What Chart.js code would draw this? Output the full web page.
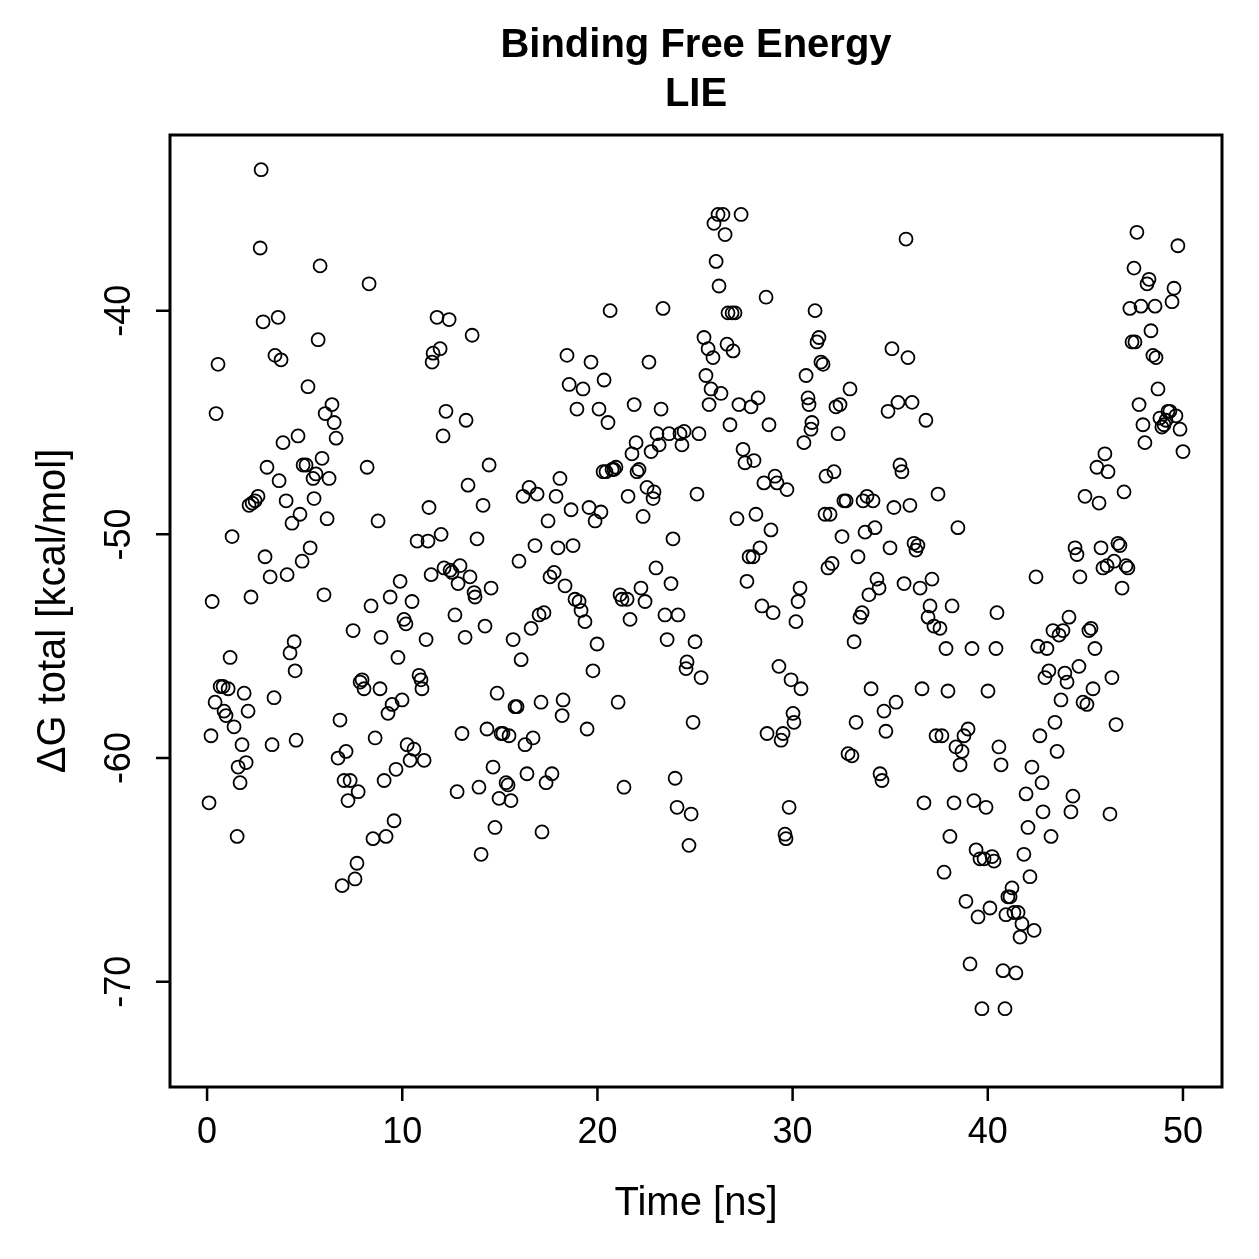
<!DOCTYPE html>
<html>
<head>
<meta charset="utf-8">
<title>Binding Free Energy - LIE</title>
<script src="https://cdn.jsdelivr.net/npm/chart.js@4.4.1/dist/chart.umd.min.js"></script>
<style>
  html, body { margin: 0; padding: 0; background: #ffffff; }
  #chart { display: block; }
</style>
</head>
<body>
<canvas id="chart" width="1259" height="1259"></canvas>
<script>
// values (time in ns, dG in kcal/mol)
const timeNs = [
  0.10, 0.20, 0.26, 0.41, 0.46, 0.56, 0.67, 0.82, 0.87, 0.97,
  1.08, 1.18, 1.28, 1.38, 1.54, 1.59, 1.69, 1.79, 1.90, 2.00,
  2.10, 2.25, 2.15, 2.31, 2.46, 2.61, 2.72, 2.77, 2.87, 2.97,
  3.07, 3.23, 3.33, 3.43, 3.48, 3.64, 3.69, 3.79, 3.89, 4.05,
  4.10, 4.25, 4.35, 4.46, 4.51, 4.56, 4.66, 4.76, 4.87, 4.92,
  5.07, 5.17, 5.28, 5.43, 5.48, 5.58, 5.69, 5.79, 5.89, 5.99,
  6.05, 6.15, 6.25, 6.40, 6.51, 6.61, 6.71, 6.81, 6.92, 7.02,
  7.12, 7.22, 7.33, 7.48, 7.58, 7.68, 7.74, 7.84, 7.94, 8.04,
  8.20, 8.30, 8.40, 8.50, 8.61, 8.76, 8.86, 8.91, 9.07, 9.17,
  9.27, 9.38, 9.48, 9.58, 9.68, 9.78, 9.89, 9.99, 10.09, 10.19,
  10.25, 10.40, 10.50, 10.60, 10.76, 10.86, 10.96, 11.01, 11.12, 11.22,
  11.32, 11.37, 11.48, 11.53, 11.58, 11.78, 11.94, 11.99, 12.09, 12.14,
  12.24, 12.40, 12.45, 12.55, 12.70, 12.81, 12.86, 12.96, 13.06, 13.22,
  13.27, 13.37, 13.47, 13.58, 13.68, 13.73, 13.83, 13.93, 14.04, 14.14,
  14.24, 14.34, 14.45, 14.55, 14.65, 14.75, 14.86, 14.96, 15.06, 15.16,
  15.32, 15.42, 15.47, 15.57, 15.68, 15.78, 15.88, 15.98, 16.09, 16.19,
  16.29, 16.39, 16.50, 16.60, 16.70, 16.80, 16.91, 17.01, 17.11, 17.16,
  17.26, 17.37, 17.47, 17.57, 17.67, 17.78, 17.88, 17.98, 18.08, 18.19,
  18.24, 18.34, 18.44, 18.55, 18.65, 18.75, 18.85, 18.95, 19.06, 19.16,
  19.26, 19.36, 19.47, 19.57, 19.67, 19.77, 19.88, 19.98, 20.08, 20.18,
  20.29, 20.34, 20.44, 20.54, 20.65, 20.75, 20.85, 20.95, 21.06, 21.16,
  21.26, 21.36, 21.52, 21.57, 21.67, 21.77, 21.88, 21.98, 22.03, 22.13,
  22.23, 22.34, 22.44, 22.54, 22.64, 22.75, 22.85, 22.90, 23.00, 23.05,
  23.16, 23.26, 23.36, 23.46, 23.57, 23.67, 23.77, 23.87, 23.98, 24.08,
  24.13, 24.23, 24.33, 24.44, 24.54, 24.59, 24.69, 24.80, 24.90, 25.00,
  25.10, 25.20, 25.31, 25.46, 25.56, 25.67, 25.72, 25.82, 25.92, 25.97,
  26.08, 26.18, 26.23, 26.33, 26.43, 26.54, 26.64, 26.69, 26.79, 26.90,
  26.95, 27.05, 27.15, 27.25, 27.36, 27.46, 27.56, 27.66, 27.77, 27.87,
  27.97, 28.02, 28.12, 28.23, 28.33, 28.43, 28.53, 28.64, 28.69, 28.79,
  28.89, 29.00, 29.10, 29.20, 29.30, 29.41, 29.51, 29.61, 29.66, 29.71,
  29.82, 29.92, 30.02, 30.07, 30.17, 30.28, 30.38, 30.43, 30.58, 30.69,
  30.79, 30.84, 30.94, 30.99, 31.15, 31.25, 31.35, 31.45, 31.56, 31.66,
  31.71, 31.81, 31.92, 32.02, 32.12, 32.22, 32.33, 32.43, 32.53, 32.63,
  32.74, 32.84, 32.94, 33.04, 33.15, 33.25, 33.35, 33.45, 33.56, 33.61,
  33.71, 33.81, 33.91, 34.02, 34.12, 34.22, 34.32, 34.43, 34.48, 34.58,
  34.68, 34.78, 34.89, 34.99, 35.09, 35.19, 35.30, 35.40, 35.50, 35.60,
  35.71, 35.81, 35.91, 36.01, 36.12, 36.22, 36.32, 36.42, 36.53, 36.63,
  36.73, 36.83, 36.94, 37.04, 37.14, 37.24, 37.35, 37.45, 37.55, 37.65,
  37.76, 37.86, 37.96, 38.06, 38.17, 38.27, 38.37, 38.47, 38.58, 38.68,
  38.78, 38.88, 38.99, 39.09, 39.19, 39.29, 39.40, 39.50, 39.60, 39.70,
  39.81, 39.91, 40.01, 40.11, 40.22, 40.32, 40.42, 40.47, 40.57, 40.68,
  40.78, 40.88, 40.93, 41.03, 41.14, 41.24, 41.34, 41.44, 41.55, 41.65,
  41.75, 41.85, 41.96, 42.06, 42.16, 42.26, 42.37, 42.47, 42.57, 42.67,
  42.78, 42.83, 42.93, 43.03, 43.13, 43.24, 43.34, 43.44, 43.55, 43.65,
  43.75, 43.85, 43.95, 44.06, 44.16, 44.26, 44.36, 44.47, 44.57, 44.67,
  44.72, 44.88, 44.98, 45.08, 45.18, 45.29, 45.39, 45.49, 45.59, 45.70,
  45.80, 45.90, 46.00, 46.11, 46.16, 46.26, 46.36, 46.47, 46.57, 46.67,
  46.77, 46.88, 46.98, 47.08, 47.18, 47.28, 47.39, 47.49, 47.54, 47.64,
  47.75, 47.85, 47.95, 48.05, 48.16, 48.26, 48.36, 48.46, 48.57, 48.62,
  48.72, 48.82, 48.92, 49.03, 49.13, 49.23, 49.33, 49.44, 49.54, 49.64,
  49.74, 49.85, 50.00
];

const deltaG = [
  -62.0, -59.0, -53.0, -57.5, -44.6, -42.4, -56.8, -56.8, -57.9, -58.1,
  -56.9, -55.5, -50.1, -58.6, -63.5, -60.4, -61.1, -59.4, -57.1, -60.2,
  -57.9, -52.8, -48.7, -48.6, -48.5, -48.3, -37.2, -33.7, -40.5, -51.0,
  -47.0, -51.9, -59.4, -57.3, -42.0, -40.3, -47.6, -42.2, -45.9, -48.5,
  -51.8, -55.3, -49.5, -54.8, -56.1, -59.2, -45.6, -49.1, -51.2, -46.9,
  -46.9, -43.4, -50.6, -47.5, -48.4, -47.3, -41.3, -38.0, -46.6, -52.7,
  -44.6, -49.3, -47.5, -44.2, -45.0, -45.7, -60.0, -58.3, -65.7, -61.0,
  -59.7, -61.9, -61.0, -54.3, -65.4, -64.7, -61.5, -56.6, -56.5, -56.9,
  -47.0, -38.8, -53.2, -63.6, -59.1, -49.4, -56.9, -54.6, -61.0, -63.5,
  -58.0, -52.8, -57.6, -62.8, -60.5, -55.5, -52.1, -57.4, -53.8, -54.0,
  -59.4, -60.1, -53.0, -59.6, -50.3, -56.3, -56.5, -56.9, -60.1, -54.7,
  -50.3, -48.8, -51.8, -42.3, -41.9, -40.3, -41.7, -50.0, -45.6, -51.5,
  -44.5, -40.4, -51.6, -51.7, -53.6, -61.5, -52.2, -51.4, -58.9, -54.6,
  -44.9, -47.8, -51.9, -41.1, -52.6, -52.8, -50.2, -61.3, -64.3, -48.7,
  -54.1, -58.7, -46.9, -52.4, -60.4, -63.1, -57.1, -61.8, -58.9, -58.9,
  -61.1, -61.2, -59.0, -61.9, -54.7, -57.7, -57.7, -51.2, -55.6, -48.3,
  -59.4, -60.7, -47.9, -54.2, -59.1, -50.5, -48.2, -53.6, -57.5, -63.3,
  -53.5, -61.1, -49.4, -51.9, -60.7, -51.7, -48.3, -50.6, -47.5, -58.1,
  -57.4, -52.3, -42.0, -43.3, -48.9, -50.5, -52.9, -44.4, -53.0, -53.4,
  -43.5, -53.9, -58.7, -48.8, -42.3, -56.1, -49.4, -54.9, -44.4, -49.0,
  -47.2, -43.1, -47.2, -45.0, -40.0, -47.1, -47.1, -47.0, -57.5, -52.7,
  -52.9, -61.3, -52.9, -48.3, -53.8, -46.4, -44.2, -45.9, -47.2, -47.1,
  -52.4, -49.2, -53.0, -47.9, -42.3, -46.3, -48.4, -48.1, -51.5, -45.5,
  -46.0, -44.4, -39.9, -53.6, -54.7, -45.5, -52.2, -50.2, -60.9, -62.2,
  -53.6, -45.5, -46.0, -45.4, -56.0, -55.7, -63.9, -62.5, -58.4, -54.8,
  -48.2, -45.5, -56.4, -41.2, -42.9, -41.7, -44.2, -43.5, -42.1, -36.1,
  -37.8, -35.7, -38.9, -43.7, -35.7, -36.6, -41.5, -40.1, -45.1, -40.1,
  -41.8, -40.1, -49.3, -44.2, -35.7, -46.2, -46.8, -52.1, -51.0, -44.3,
  -51.0, -46.7, -49.1, -43.9, -50.6, -53.2, -47.7, -39.4, -58.9, -45.1,
  -49.8, -53.5, -47.4, -47.7, -55.9, -59.2, -58.9, -63.4, -63.6, -48.0,
  -62.2, -56.5, -58.0, -58.4, -53.9, -53.0, -52.4, -56.9, -45.9, -42.9,
  -43.9, -44.2, -45.3, -45.0, -40.0, -41.4, -41.2, -42.3, -42.4, -49.1,
  -47.4, -51.5, -49.1, -51.3, -47.2, -44.3, -45.5, -44.2, -50.1, -48.5,
  -48.5, -59.8, -43.5, -59.9, -54.8, -58.4, -51.0, -53.7, -53.5, -48.5,
  -49.9, -48.3, -52.7, -56.9, -48.5, -49.7, -52.0, -52.4, -60.7, -61.0,
  -57.9, -58.8, -44.5, -50.6, -41.7, -48.8, -57.5, -44.1, -46.9, -47.2,
  -52.2, -36.8, -42.1, -48.7, -44.1, -50.4, -50.7, -50.5, -52.4, -56.9,
  -62.0, -44.9, -53.7, -53.2, -52.0, -54.1, -59.0, -48.2, -54.2, -59.0,
  -65.1, -55.1, -57.0, -63.5, -53.2, -62.0, -59.5, -49.7, -60.3, -59.7,
  -59.0, -66.4, -58.7, -69.2, -55.1, -61.9, -64.1, -67.1, -64.5, -71.2,
  -64.5, -62.2, -57.0, -66.7, -64.4, -64.6, -55.1, -53.5, -59.5, -60.3,
  -69.5, -71.2, -67.0, -66.2, -66.2, -65.8, -66.9, -69.6, -66.9, -68.0,
  -67.4, -64.3, -61.6, -63.1, -65.3, -60.4, -67.7, -51.9, -55.0, -59.0,
  -61.1, -62.4, -56.4, -55.1, -56.1, -63.5, -54.3, -58.4, -59.7, -54.5,
  -57.4, -54.3, -56.2, -56.6, -53.7, -62.4, -61.7, -50.6, -50.9, -55.9,
  -51.9, -57.5, -48.3, -57.6, -54.3, -54.2, -56.9, -55.1, -47.0, -48.6,
  -50.6, -51.5, -46.4, -51.4, -47.2, -62.5, -56.4, -51.2, -58.5, -50.4,
  -50.5, -52.4, -48.1, -51.4, -51.5, -39.9, -41.4, -38.1, -41.4, -36.5,
  -44.2, -39.8, -45.1, -45.9, -38.8, -38.6, -40.9, -42.0, -39.8, -42.1,
  -43.5, -44.8, -45.2, -45.1, -44.9, -44.5, -44.5, -39.6, -39.0, -44.7,
  -37.1, -45.3, -46.3
];

const xTicks = [0, 10, 20, 30, 40, 50];
const yTicks = [-40, -50, -60, -70];

const titleLines = ["Binding Free Energy", "LIE"];
const xLabel = "Time [ns]";
const yLabel = "\u0394G total [kcal/mol]";

const points = timeNs.map((t, i) => ({ x: t, y: deltaG[i] }));

const FONT = "'Liberation Sans', Arial, Helvetica, sans-serif";

// R style box, ticks and labels drawn on top of the chart area
const rAxes = {
  id: "rAxes",
  afterDraw(chart) {
    const ctx = chart.ctx;
    const area = chart.chartArea;
    const xs = chart.scales.x;
    const ys = chart.scales.y;
    ctx.save();
    ctx.strokeStyle = "#000";
    ctx.fillStyle = "#000";
    ctx.lineWidth = 3;
    ctx.strokeRect(area.left, area.top, area.right - area.left, area.bottom - area.top);

    // x axis
    ctx.lineWidth = 2.5;
    ctx.beginPath();
    xTicks.forEach((v) => {
      const px = xs.getPixelForValue(v);
      ctx.moveTo(px, area.bottom);
      ctx.lineTo(px, area.bottom + 14);
    });
    ctx.stroke();
    ctx.font = "36px " + FONT;
    ctx.textAlign = "center";
    ctx.textBaseline = "middle";
    xTicks.forEach((v) => {
      ctx.fillText(String(v), xs.getPixelForValue(v), area.bottom + 46);
    });

    // y axis
    ctx.beginPath();
    yTicks.forEach((v) => {
      const py = ys.getPixelForValue(v);
      ctx.moveTo(area.left, py);
      ctx.lineTo(area.left - 14, py);
    });
    ctx.stroke();
    yTicks.forEach((v) => {
      ctx.save();
      ctx.translate(area.left - 50, ys.getPixelForValue(v));
      ctx.rotate(-Math.PI / 2);
      ctx.fillText(String(v), 0, 0);
      ctx.restore();
    });

    ctx.font = "40px " + FONT;
    ctx.fillText(xLabel, (area.left + area.right) / 2, area.bottom + 117);
    ctx.save();
    ctx.translate(area.left - 116, (area.top + area.bottom) / 2);
    ctx.rotate(-Math.PI / 2);
    ctx.fillText(yLabel, 0, 0);
    ctx.restore();

    // title
    ctx.font = "bold 40px " + FONT;
    const cx = (area.left + area.right) / 2;
    ctx.fillText(titleLines[0], cx, 46);
    ctx.fillText(titleLines[1], cx, 95);
    ctx.restore();
  }
};

new Chart(document.getElementById("chart"), {
  type: "scatter",
  data: {
    datasets: [
      {
        label: "dG",
        data: points,
        pointStyle: "circle",
        pointRadius: 6.5,
        pointHoverRadius: 6.5,
        borderWidth: 1.8,
        borderColor: "#000000",
        backgroundColor: "rgba(0,0,0,0)",
      },
    ],
  },
  options: {
    responsive: false,
    animation: false,
    devicePixelRatio: 1,
    layout: {
      padding: { left: 170, top: 135, right: 37, bottom: 172 },
    },
    plugins: {
      legend: { display: false },
      title: { display: false },
      tooltip: { enabled: false },
    },
    scales: {
      x: {
        type: "linear",
        min: -1.9,
        max: 52.0,
        display: false,
      },
      y: {
        type: "linear",
        min: -74.7,
        max: -32.15,
        display: false,
      },
    },
  },
  plugins: [rAxes],
});
</script>
</body>
</html>
